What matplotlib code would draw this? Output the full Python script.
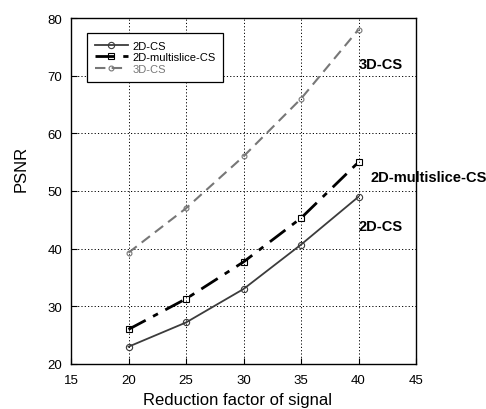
import numpy as np
import matplotlib
matplotlib.use("Agg")
from matplotlib import pyplot as plt

# data
reduction = [20, 25, 30, 35, 40]
psnr_2d = [23.0, 27.2, 33.0, 40.7, 49.0]
psnr_2d_multi = [26.0, 31.3, 37.7, 45.3, 55.0]
psnr_3d = [39.3, 47.0, 56.0, 66.0, 78.0]

x_ticks = [15, 20, 25, 30, 35, 40, 45]
y_ticks = [20, 30, 40, 50, 60, 70, 80]

plt.rcParams['font.family'] = ['Liberation Sans', 'DejaVu Sans']

fig = plt.figure(figsize=(4.86, 4.10), dpi=100)
ax = fig.add_axes([71 / 486, 1 - 365 / 410, 345 / 486, 346 / 410])

ax.plot(reduction, psnr_2d, color="#3c3c3c", lw=1.3, ls="-",
        marker="o", ms=4.5, mfc="none", mec="#3c3c3c", mew=0.8, label="2D-CS")
ax.plot(reduction, psnr_2d_multi, color="black", lw=2.0, ls=(0, (7, 3, 2, 3)),
        marker="s", ms=4.5, mfc="none", mec="black", mew=0.8, label="2D-multislice-CS")
ax.plot(reduction, psnr_3d, color="#777777", lw=1.5, ls=(0, (5, 3)),
        marker="o", ms=3.5, mfc="none", mec="#777777", mew=0.8, label="3D-CS")

ax.set_xlim(15, 45)
ax.set_ylim(20, 80)
ax.set_xticks(x_ticks)
ax.set_yticks(y_ticks)
ax.tick_params(direction="in", labelsize=9.5, length=4, width=0.8,
               top=False, right=False)
ax.tick_params(axis="x", pad=7)
ax.tick_params(axis="y", pad=6.5)
ax.grid(True, color="black", ls=(0, (1.2, 2.2)), lw=0.7)
for s in ax.spines.values():
    s.set_linewidth(1.0)
    s.set_color("black")

# axis titles placed in figure pixels as in the reference
fig.text(237 / 486, 1 - 405 / 410, "Reduction factor of signal", fontsize=12,
         ha="center", va="baseline")
fig.text(21 / 486, 1 - 169 / 410, "PSNR", fontsize=12, rotation=90,
         ha="center", va="center")

leg = ax.legend(loc="upper left", bbox_to_anchor=(0.046, 0.957), fontsize=8,
                frameon=True, fancybox=False, edgecolor="black", framealpha=1,
                handlelength=3.0, borderpad=0.7, labelspacing=0.15,
                handletextpad=0.4, borderaxespad=0)
leg.get_frame().set_linewidth(0.9)
leg.get_texts()[2].set_color("#777777")

ax.text(40, 72, "3D-CS", fontsize=10.5, fontweight="bold", va="center", ha="left")
ax.text(41, 52.4, "2D-multislice-CS", fontsize=10.5, fontweight="bold",
        va="center", ha="left", clip_on=False)
ax.text(40, 43.9, "2D-CS", fontsize=10.5, fontweight="bold", va="center", ha="left")

fig.savefig("out.png", dpi=100)
